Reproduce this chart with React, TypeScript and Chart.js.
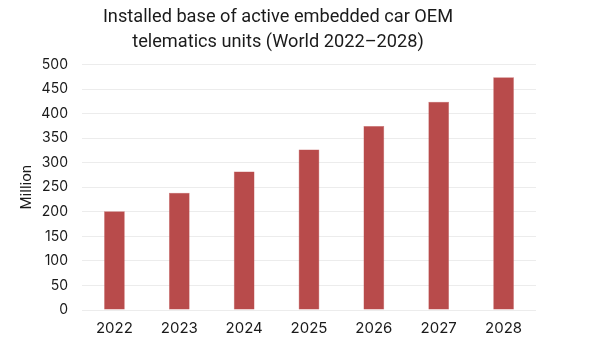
import React, { useEffect, useRef } from "react";
import { Chart, registerables } from "chart.js";

Chart.register(...registerables);

const years = ["2022", "2023", "2024", "2025", "2026", "2027", "2028"];
const installedBase = [201, 239, 282, 327, 375, 424, 474];
const titleLines = ["Installed base of active embedded car OEM", "telematics units (World 2022–2028)"];
const yAxisLabel = "Million";

export default function App() {
  const ref = useRef<HTMLCanvasElement | null>(null);
  useEffect(() => {
    if (!ref.current) return;
    const chart = new Chart(ref.current, {
      type: "bar",
      data: {
        labels: years,
        datasets: [
          {
            data: installedBase,
            backgroundColor: "#b84b4b",
            borderColor: "#c86a6a",
            borderWidth: 0.5,
            barPercentage: 0.32,
            categoryPercentage: 1,
          },
        ],
      },
      options: {
        responsive: false,
        animation: false,
        layout: { padding: { left: 8, right: 52, top: 5, bottom: 2 } },
        plugins: {
          legend: { display: false },
          tooltip: { enabled: false },
          title: {
            display: true,
            text: titleLines,
            color: "#1a1a1a",
            font: { family: "Roboto", size: 18.2, weight: "normal", lineHeight: 1.36 },
            padding: { top: 0, bottom: 10 },
          },
        },
        scales: {
          x: {
            afterFit: (s: any) => {
              s.height = 26;
            },
            grid: { display: false, drawTicks: false },
            border: { display: false },
            ticks: { color: "#1a1a1a", font: { family: "Inter", size: 15 }, padding: 9 },
          },
          y: {
            min: 0,
            max: 500,
            afterFit: (s: any) => {
              s.width = 74;
            },
            ticks: { stepSize: 50, color: "#1a1a1a", font: { family: "Inter", size: 14 }, padding: 14 },
            grid: { color: "#ececec", lineWidth: 1, drawTicks: false },
            border: { display: false },
            title: {
              display: true,
              text: yAxisLabel,
              color: "#1a1a1a",
              font: { family: "Roboto", size: 15 },
              padding: { top: 10, bottom: 0 },
            },
          },
          y2: {
            position: "right",
            display: true,
            afterFit: (s: any) => {
              s.width = 12;
            },
            grid: { display: false },
            border: { display: false },
            ticks: { display: false },
          },
        },
      },
    });
    return () => chart.destroy();
  }, []);
  return (
    <canvas
      ref={ref}
      width={600}
      height={338}
      style={{ position: "fixed", left: 0, top: 0, width: 600, height: 338, background: "#fff" }}
    />
  );
}
